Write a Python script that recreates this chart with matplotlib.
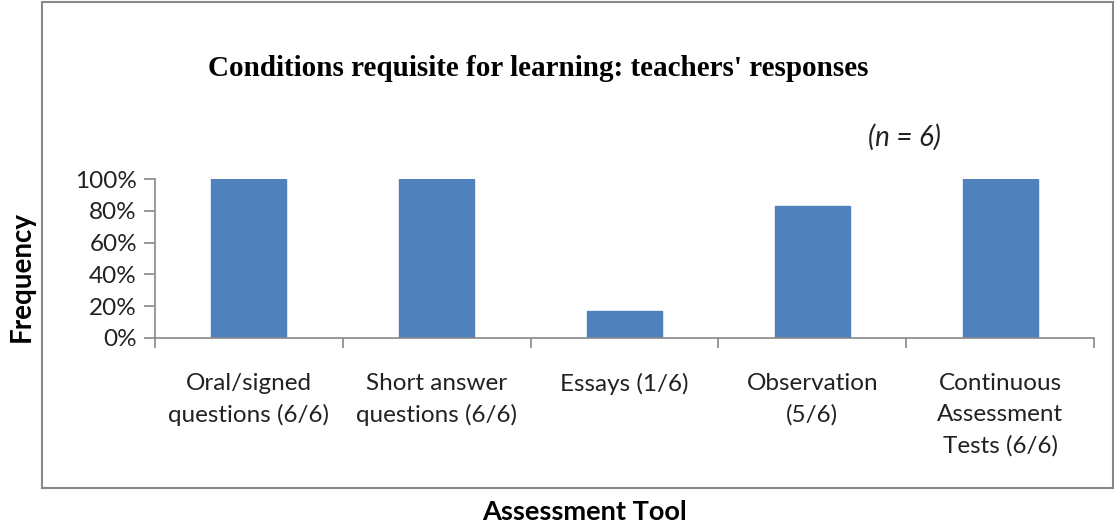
import matplotlib
matplotlib.use("Agg")
import matplotlib.pyplot as plt
from matplotlib.patches import Rectangle
from matplotlib.ticker import FixedLocator, PercentFormatter

categories = ["Oral/signed\nquestions (6/6)", "Short answer\nquestions (6/6)", "Essays (1/6)",
              "Observation\n(5/6)", "Continuous\nAssessment\nTests (6/6)"]
values = [100.0, 100.0, 16.67, 83.33, 100.0]
yticks = [0, 20, 40, 60, 80, 100]

W, H = 1116, 524
fig = plt.figure(figsize=(W / 100, H / 100), dpi=100)
fig.patch.set_facecolor("white")

# outer chart border
fig.add_artist(Rectangle((42 / W, 1 - 488 / H), (1113 - 42) / W, (488 - 2) / H,
                         transform=fig.transFigure, fill=False, edgecolor="#888888", lw=1.5))

ax = fig.add_axes([155 / W, 1 - 338 / H, (1094 - 155) / W, (338 - 179) / H])
x = list(range(len(categories)))
ax.bar(x, values, width=0.4, color="#4F81BD", edgecolor="#4F81BD")
ax.set_xlim(-0.5, len(categories) - 0.5)
ax.set_ylim(0, 100)
ax.yaxis.set_major_locator(FixedLocator(yticks))
ax.yaxis.set_major_formatter(PercentFormatter(decimals=0))
ax.set_xticks(x)
ax.set_xticklabels(categories, fontsize=17.5, family="Lato", color="#222222", linespacing=1.58)
ax.xaxis.set_minor_locator(FixedLocator([i - 0.5 for i in range(len(categories) + 1)]))
ax.tick_params(axis="x", which="major", length=0, pad=25)
ax.tick_params(axis="x", which="minor", length=7, color="#888888", width=1.2, direction="out")
ax.tick_params(axis="y", length=8, color="#888888", width=1.2, labelsize=17.5, labelcolor="#222222", pad=5)
for lbl in ax.get_yticklabels():
    lbl.set_family("Lato")
for side in ["top", "right"]:
    ax.spines[side].set_visible(False)
for side in ["left", "bottom"]:
    ax.spines[side].set_color("#888888")
    ax.spines[side].set_linewidth(1.2)

fig.text(538 / W, 1 - 68 / H, "Conditions requisite for learning: teachers' responses",
         ha="center", va="center", family="Liberation Serif", weight="bold", fontsize=21)
fig.text(904 / W, 1 - 137 / H, "(n = 6)", ha="center", va="center", family="Lato",
         style="italic", fontsize=20, color="#222222")
fig.text(585 / W, 1 - 512 / H, "Assessment Tool", ha="center", va="center", family="Lato",
         weight="bold", fontsize=19.5)
fig.text(22 / W, 1 - 276 / H, "Frequency", ha="center", va="center", rotation=90, family="Lato",
         weight="bold", fontsize=20)

fig.savefig("out.png", dpi=100)
